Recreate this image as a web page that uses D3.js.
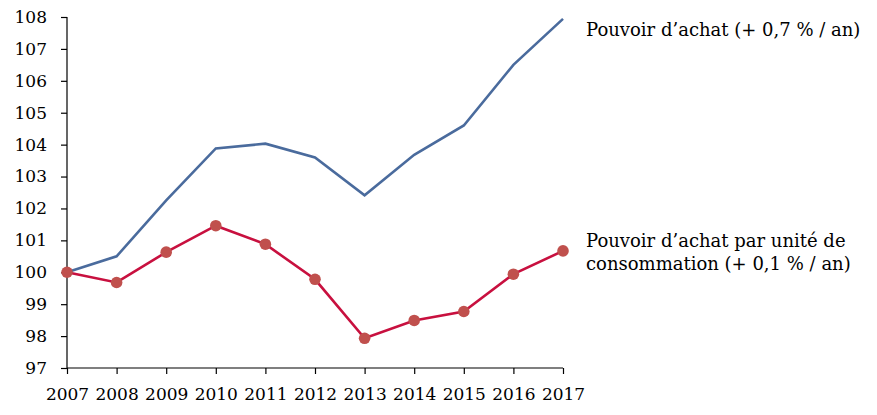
<!DOCTYPE html>
<html>
<head>
<meta charset="utf-8">
<script src="https://cdn.jsdelivr.net/npm/d3@7"></script>
<style>
  body { margin: 0; background: #fff; }
</style>
</head>
<body>
<div id="chart"></div>
<script>
const years = [2007, 2008, 2009, 2010, 2011, 2012, 2013, 2014, 2015, 2016, 2017];
const pouvoirAchat = [100, 100.5, 102.25, 103.88, 104.03, 103.6, 102.41, 103.68, 104.6, 106.5, 107.94];
const pouvoirAchatUC = [100, 99.68, 100.63, 101.46, 100.88, 99.78, 97.93, 98.49, 98.77, 99.94, 100.67];
const yTicks = [97, 98, 99, 100, 101, 102, 103, 104, 105, 106, 107, 108];
const labelAchat = ["Pouvoir d\u2019achat (+ 0,7 % / an)"];
const labelAchatUC = ["Pouvoir d\u2019achat par unité de", "consommation (+ 0,1 % / an)"];

const FONT = "'DejaVu Serif', serif";
const width = 877, height = 415;
const margin = { top: 17, right: 314, bottom: 47, left: 67 };
const innerW = width - margin.left - margin.right;
const innerH = height - margin.top - margin.bottom;

const svg = d3.select('#chart').append('svg')
  .attr('width', width)
  .attr('height', height)
  .style('font-family', FONT);

const g = svg.append('g')
  .attr('transform', `translate(${margin.left},${margin.top})`);

const x = d3.scalePoint().domain(years).range([0, innerW]);
const y = d3.scaleLinear().domain([97, 108]).range([innerH, 0]);

// axes
const yAxis = g.append('g')
  .call(d3.axisLeft(y).tickValues(yTicks).tickSize(6).tickPadding(14).tickFormat(d3.format('d')));
const xAxis = g.append('g')
  .attr('transform', `translate(0,${innerH})`)
  .call(d3.axisBottom(x).tickSize(6).tickPadding(14));

[yAxis, xAxis].forEach(a => {
  a.attr('font-family', null).attr('font-size', null);
  a.selectAll('path, line').attr('stroke', '#000').attr('stroke-width', 1.2);
  a.selectAll('text').style('font-family', FONT).style('font-size', '17px').attr('fill', '#000');
});
xAxis.select('.domain').attr('d', `M0,0H${innerW}`);
yAxis.select('.domain').attr('d', `M0,${innerH}V0`);

const line = d3.line()
  .x((d, i) => x(years[i]))
  .y(d => y(d));

g.append('path')
  .datum(pouvoirAchat)
  .attr('fill', 'none')
  .attr('stroke', '#4a6b9d')
  .attr('stroke-width', 2.6)
  .attr('d', line);

g.append('path')
  .datum(pouvoirAchatUC)
  .attr('fill', 'none')
  .attr('stroke', '#c8103f')
  .attr('stroke-width', 2.6)
  .attr('d', line);

g.append('g')
  .selectAll('circle')
  .data(pouvoirAchatUC)
  .join('circle')
  .attr('cx', (d, i) => x(years[i]))
  .attr('cy', d => y(d))
  .attr('r', 5.8)
  .attr('fill', '#c0504d');

// labels
function seriesLabel(lines, top) {
  svg.append('text')
    .attr('x', 586)
    .attr('y', top)
    .style('font-family', FONT)
    .style('font-size', '18px')
    .attr('fill', '#000')
    .selectAll('tspan').data(lines).join('tspan')
    .attr('x', 586).attr('dy', (d, i) => i ? 23 : 0).text(d => d);
}
seriesLabel(labelAchat, 36);
seriesLabel(labelAchatUC, 247);
</script>
</body>
</html>
